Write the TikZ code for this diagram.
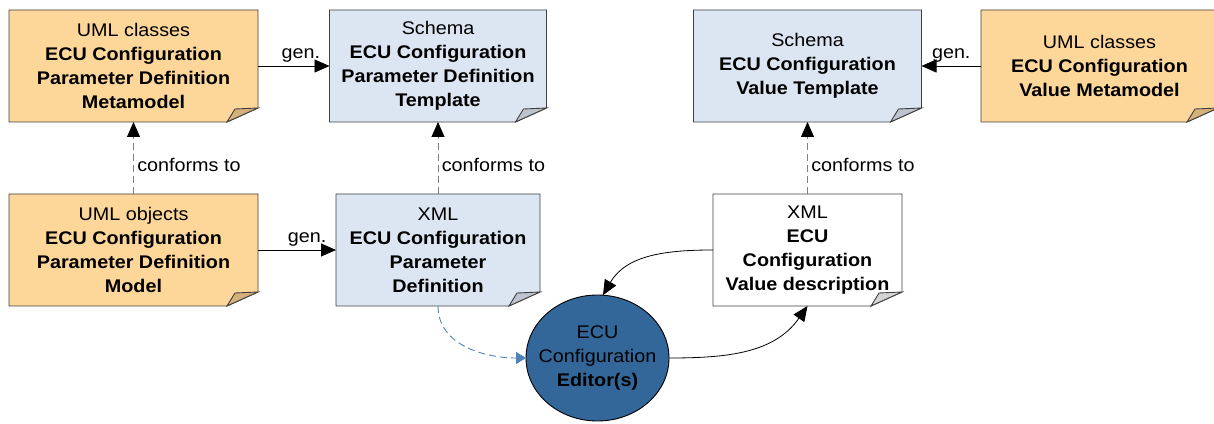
\documentclass[tikz,border=0pt]{standalone}
\usepackage{fontspec}
\setmainfont{Liberation Sans}[FakeStretch=1.08]
\usepackage{xcolor}
\definecolor{umlfill}{RGB}{253,214,153}
\definecolor{umlfold}{RGB}{214,176,122}
\definecolor{xmlfill}{RGB}{220,230,242}
\definecolor{xmlfold}{RGB}{190,196,206}
\definecolor{plainfold}{RGB}{212,212,212}
\definecolor{edfill}{RGB}{51,102,153}
\definecolor{feedline}{RGB}{79,129,189}
\definecolor{boxline}{RGB}{64,64,64}
\usepackage{tikz}
\usetikzlibrary{positioning,backgrounds}
\usetikzlibrary{arrows.meta}
\usetikzlibrary{shapes.geometric}
\tikzset{>={Triangle[length=15pt,width=13pt]}}
\tikzset{
  artifact/.style ={ rectangle, inner sep=0pt, outer sep=0pt, align=center, minimum height=112pt },
  editor/.style   ={ ellipse, draw=black, fill=edfill, line width=0.9pt, align=center,
                     inner xsep=-10pt, inner ysep=0pt, outer sep=0pt,
                     minimum width=143pt, minimum height=126pt },
  sheet/.style    ={ draw=boxline, line width=0.9pt },
%
  gen/.style={->, draw=black, line width=0.9pt},
  conforms/.style={-{Triangle[length=15pt,width=13pt,black]}, draw=black!50, line width=0.9pt,
                   dash pattern=on 7pt off 4pt},
  edit/.style={->, draw=black, line width=0.8pt},
  feed/.style={-{Triangle[length=10pt,width=12pt]}, draw=feedline, line width=0.9pt,
               dash pattern=on 7pt off 4pt}
}

\begin{document}
\begin{tikzpicture}[x=1pt,y=1pt,font=\fontsize{18.3}{24}\selectfont]
        \useasboundingbox (0,0) rectangle (1214,423);
        \node[artifact, minimum width=249pt] (MM) at (133.5,357) {UML classes\\ \textbf{ECU Configuration}\\ \textbf{Parameter Definition}\\ \textbf{Metamodel}};
        \node[artifact, minimum width=217pt] (TPL) at (438,357) {Schema\\ \textbf{ECU Configuration}\\ \textbf{Parameter Definition}\\ \textbf{Template}};
        \node[artifact, minimum width=228pt] (VTPL) at (807.5,357) {Schema\\ \textbf{ECU Configuration}\\ \textbf{Value Template}};
        \node[artifact, minimum width=237pt] (VMM) at (1099.5,357) {UML classes\\ \textbf{ECU Configuration}\\ \textbf{Value Metamodel}};
        \node[artifact, minimum width=249pt] (MOD) at (133.5,173) {UML objects\\ \textbf{ECU Configuration}\\ \textbf{Parameter Definition}\\ \textbf{Model}};
        \node[artifact, minimum width=204pt] (DEF) at (438,173) {XML\\ \textbf{ECU Configuration}\\ \textbf{Parameter}\\ \textbf{Definition}};
        \node[artifact, minimum width=189pt] (VAL) at (807.5,173) {XML\\ \textbf{ECU}\\ \textbf{Configuration}\\ \textbf{Value description}};
        \node[editor] (ED) at (597.5,65) {ECU\\ Configuration\\ \textbf{Editor(s)}};
        % folded sheets behind the texts
        \begin{scope}[on background layer]
          \foreach \n/\f/\k in {MM/umlfill/umlfold, TPL/xmlfill/xmlfold, VTPL/xmlfill/xmlfold,
                                VMM/umlfill/umlfold, MOD/umlfill/umlfold, DEF/xmlfill/xmlfold,
                                VAL/white/plainfold} {
            \filldraw[sheet, fill=\f] (\n.north west) -- (\n.north east) -- ([yshift=14pt]\n.south east)
              -- ([xshift=-31pt]\n.south east) -- (\n.south west) -- cycle;
            \filldraw[sheet, fill=\k] ([xshift=-31pt]\n.south east) -- ([xshift=-23pt,yshift=13pt]\n.south east)
              -- ([yshift=14pt]\n.south east) -- cycle;
          }
        \end{scope}
        \draw[gen] (MM) -- node[above, pos=0.6] (g1) {gen.} (TPL);
        \draw[gen] (VMM) -- node[above] (g2) {gen.} (VTPL);
        \draw[gen] (MOD) -- node[above, pos=0.63] (g3) {gen.} (DEF);
        \draw[conforms] (MOD) -- node[right, pos=0.4] (c1) {conforms to} (MM);
        \draw[conforms] (DEF) -- node[right, pos=0.4] (c2) {conforms to} (TPL);
        \draw[conforms] (VAL) -- node[right, pos=0.4] (c3) {conforms to} (VTPL);
        \draw[edit] (VAL.west) to[out=180, in=60] (ED.85);
        \draw[edit] (ED.east) to[out=0, in=235] (VAL.south);
        \draw[feed] (DEF.south) to[out=-90, in=180] (ED.west);
      \end{tikzpicture}
\end{document}
